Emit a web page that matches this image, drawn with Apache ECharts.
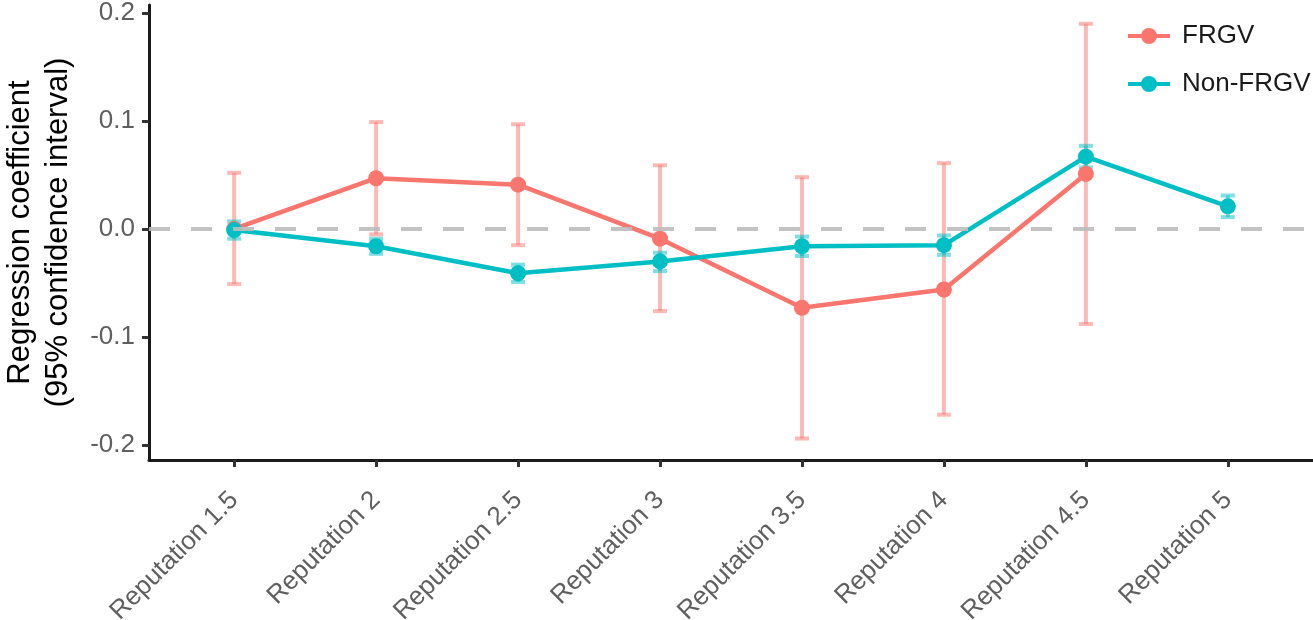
<!DOCTYPE html>
<html>
<head>
<meta charset="utf-8">
<script src="https://cdn.jsdelivr.net/npm/echarts@6/dist/echarts.min.js"></script>
<style>
html,body{margin:0;padding:0;background:#fff;}
#chart{width:1313px;height:620px;}
</style>
</head>
<body>
<div id="chart"></div>
<script>
var categories = ['Reputation 1.5','Reputation 2','Reputation 2.5','Reputation 3','Reputation 3.5','Reputation 4','Reputation 4.5','Reputation 5'];
var yTicks = [-0.2, -0.1, 0.0, 0.1, 0.2];

var frgvValue = [0.000, 0.047, 0.041, -0.009, -0.073, -0.056, 0.051, null];
var frgvLower = [-0.051, -0.005, -0.015, -0.076, -0.194, -0.172, -0.088, null];
var frgvUpper = [0.052, 0.099, 0.097, 0.059, 0.048, 0.061, 0.190, null];

var nonValue = [-0.001, -0.016, -0.041, -0.030, -0.016, -0.015, 0.067, 0.021];
var nonLower = [-0.009, -0.023, -0.049, -0.039, -0.025, -0.024, 0.057, 0.011];
var nonUpper = [0.007, -0.009, -0.033, -0.022, -0.007, -0.006, 0.077, 0.031];

var RED = '#F8766D', TEAL = '#00BFC4';
var FONT = "'Liberation Sans', Arial, Helvetica, sans-serif";

function pts(vals) {
  var out = [];
  for (var i = 0; i < vals.length; i++) { if (vals[i] !== null) out.push([i, vals[i]]); }
  return out;
}
function bars(lo, hi) {
  var out = [];
  for (var i = 0; i < lo.length; i++) { if (lo[i] !== null) out.push([i, lo[i], hi[i]]); }
  return out;
}
function errRender(color) {
  return function (params, api) {
    var x = api.value(0);
    var p1 = api.coord([x, api.value(1)]);
    var p2 = api.coord([x, api.value(2)]);
    var hw = 7;
    var st = { stroke: color, lineWidth: 4, opacity: 0.5 };
    return {
      type: 'group',
      children: [
        { type: 'line', shape: { x1: p1[0], y1: p1[1], x2: p2[0], y2: p2[1] }, style: st },
        { type: 'line', shape: { x1: p1[0] - hw, y1: p1[1], x2: p1[0] + hw, y2: p1[1] }, style: st },
        { type: 'line', shape: { x1: p2[0] - hw, y1: p2[1], x2: p2[0] + hw, y2: p2[1] }, style: st }
      ]
    };
  };
}

var chart = echarts.init(document.getElementById('chart'), null, { renderer: 'canvas' });
var catIdx = categories.map(function (c, i) { return i; });

chart.setOption({
  animation: false,
  backgroundColor: '#fff',
  textStyle: { fontFamily: FONT },
  grid: { left: 149, right: 0, top: 5, bottom: 160, containLabel: false, outerBoundsMode: 'none' },
  legend: {
    orient: 'vertical',
    left: 1121,
    top: 18,
    itemWidth: 42,
    itemHeight: 20,
    itemGap: 22,
    data: ['FRGV', 'Non-FRGV'],
    lineStyle: { width: 4 },
    textStyle: { fontSize: 26, color: '#1a1a1a', fontFamily: FONT, padding: [0, 0, 0, 7] }
  },
  xAxis: {
    type: 'value',
    min: -0.6,
    max: 7.6,
    splitLine: { show: false },
    axisLine: { show: true, onZero: false, lineStyle: { color: '#1a1a1a', width: 3 } },
    axisTick: { show: true, length: 7, customValues: catIdx, lineStyle: { color: '#333', width: 3 } },
    axisLabel: {
      customValues: catIdx,
      rotate: 45,
      margin: 36,
      fontSize: 26,
      color: '#5f5f5f',
      fontFamily: FONT,
      formatter: function (v) { return categories[Math.round(v)]; }
    }
  },
  yAxis: {
    type: 'value',
    min: -0.2139,
    max: 0.2074,
    name: 'Regression coefficient\n(95% confidence interval)',
    nameLocation: 'middle',
    nameGap: 72,
    nameTextStyle: { fontSize: 31, color: '#000', fontFamily: FONT, lineHeight: 38 },
    splitLine: { show: false },
    axisLine: { show: true, onZero: false, lineStyle: { color: '#1a1a1a', width: 3 } },
    axisTick: { show: true, length: 7, customValues: yTicks, lineStyle: { color: '#333', width: 3 } },
    axisLabel: {
      customValues: yTicks,
      margin: 14,
      fontSize: 26,
      color: '#5f5f5f',
      fontFamily: FONT,
      formatter: function (v) { return v.toFixed(1); }
    }
  },
  series: [
    {
      name: 'FRGV-err', type: 'custom', renderItem: errRender(RED),
      data: bars(frgvLower, frgvUpper), encode: { x: 0, y: [1, 2] }, z: 1, silent: true
    },
    {
      name: 'Non-FRGV-err', type: 'custom', renderItem: errRender(TEAL),
      data: bars(nonLower, nonUpper), encode: { x: 0, y: [1, 2] }, z: 1, silent: true
    },
    {
      name: 'FRGV', type: 'line', data: pts(frgvValue),
      symbol: 'circle', symbolSize: 16,
      lineStyle: { color: RED, width: 4.5 },
      itemStyle: { color: RED },
      z: 3
    },
    {
      name: 'Non-FRGV', type: 'line', data: pts(nonValue),
      symbol: 'circle', symbolSize: 16,
      lineStyle: { color: TEAL, width: 4.5 },
      itemStyle: { color: TEAL },
      z: 4,
      markLine: {
        silent: true, symbol: 'none', z: 10,
        label: { show: false },
        lineStyle: { color: '#bdbdbd', width: 4, type: [21, 21], opacity: 0.9 },
        data: [{ yAxis: 0 }]
      }
    }
  ]
});
</script>
</body>
</html>
